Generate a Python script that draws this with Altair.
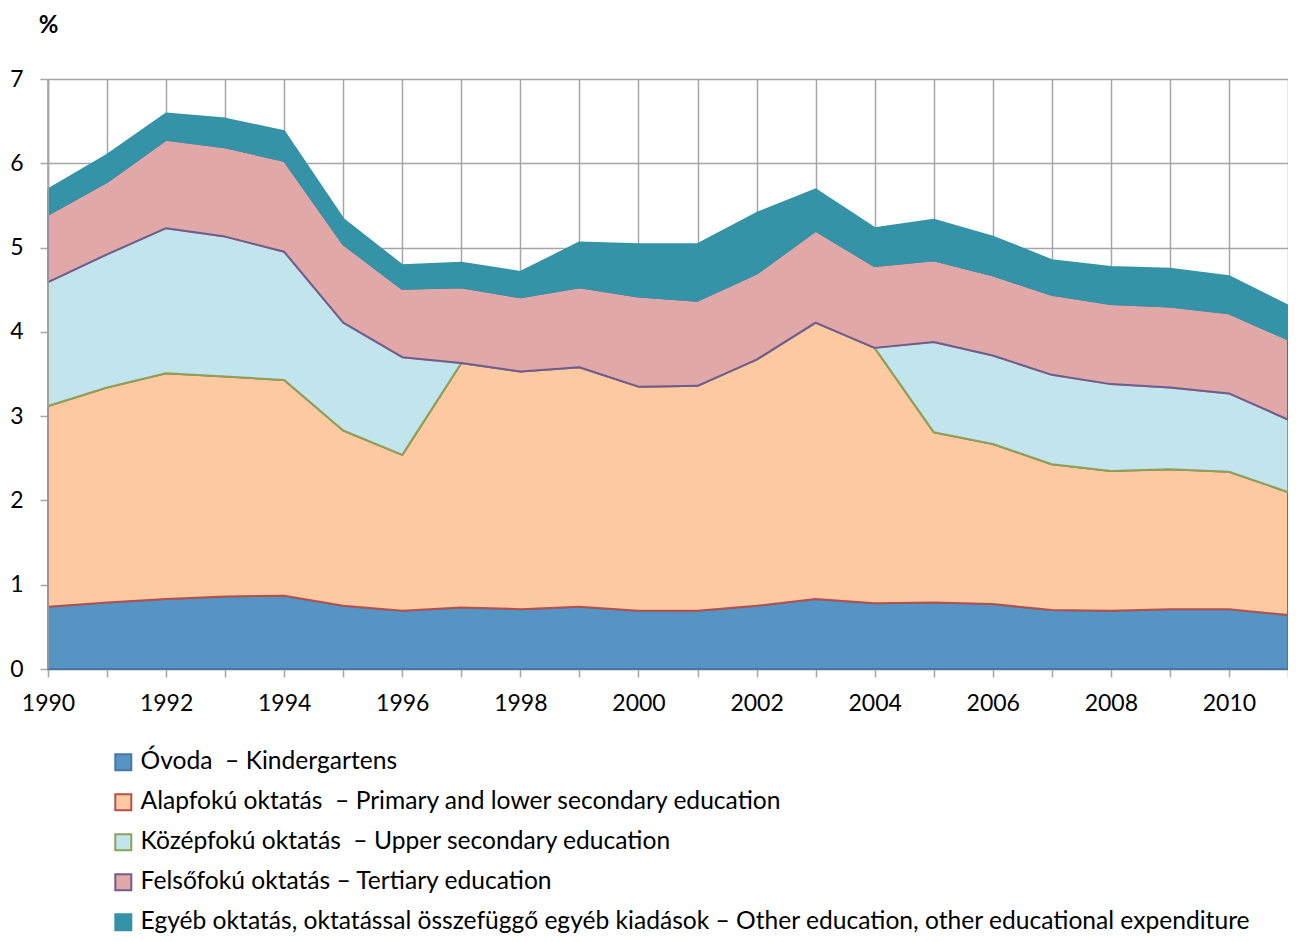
import altair as alt
import numpy as np
import pandas as pd

years = list(range(1990, 2012))

series_names = [
    "Óvoda\u00a0 – Kindergartens",
    "Alapfokú oktatás\u00a0 – Primary and lower secondary education",
    "Középfokú oktatás\u00a0 – Upper secondary education",
    "Felsőfokú oktatás – Tertiary education",
    "Egyéb oktatás, oktatással összefüggő egyéb kiadások – Other education, other educational expenditure",
]

kindergarten = [0.74, 0.79, 0.83, 0.86, 0.87, 0.75, 0.69, 0.73, 0.71, 0.74, 0.69,
                0.69, 0.75, 0.83, 0.78, 0.79, 0.77, 0.70, 0.69, 0.71, 0.71, 0.64]
primary = [2.38, 2.55, 2.68, 2.61, 2.56, 2.08, 1.85, 2.90, 2.82, 2.84, 2.66,
           2.67, 2.92, 3.28, 3.03, 2.02, 1.90, 1.73, 1.66, 1.66, 1.63, 1.46]
upper_secondary = [1.47, 1.58, 1.72, 1.66, 1.52, 1.28, 1.16, 0, 0, 0, 0,
                   0, 0, 0, 0, 1.07, 1.05, 1.06, 1.03, 0.97, 0.93, 0.86]
tertiary = [0.80, 0.86, 1.05, 1.06, 1.08, 0.93, 0.81, 0.90, 0.88, 0.95, 1.07,
            1.01, 1.02, 1.09, 0.97, 0.97, 0.95, 0.95, 0.95, 0.96, 0.95, 0.95]
other = [0.30, 0.32, 0.31, 0.34, 0.35, 0.30, 0.28, 0.29, 0.30, 0.53, 0.62,
         0.67, 0.72, 0.49, 0.45, 0.48, 0.46, 0.41, 0.44, 0.45, 0.44, 0.40]

fills = ["#5694c3", "#fdc9a1", "#c2e4ec", "#e0a8a6", "#3593a7"]
strokes = ["#4677a8", "#b5504b", "#8aa356", "#6f5c93", "#3593a7"]

all_series = [kindergarten, primary, upper_secondary, tertiary, other]
cum = np.cumsum(np.array(all_series), axis=0)
rows = []
for i, name in enumerate(series_names):
    for j, y in enumerate(years):
        lo = 0.0 if i == 0 else float(cum[i - 1, j])
        rows.append({"year": y, "series": name, "lo": lo, "hi": float(cum[i, j])})
df = pd.DataFrame(rows)

FONT = "Lato"
GRID = "#a6a6a6"

x_enc = alt.X(
    "year:Q",
    scale=alt.Scale(domain=[1990, 2011], nice=False, zero=False),
    axis=alt.Axis(
        values=years,
        labelExpr="datum.value % 2 == 0 ? datum.value : ''",
        format="d",
        title=None,
        grid=True,
        gridColor=GRID,
        gridWidth=1.5,
        domainColor=GRID,
        domainWidth=1.5,
        tickColor=GRID,
        tickWidth=1.5,
        tickSize=8,
        labelPadding=15,
        labelFontSize=23,
        labelFont=FONT,
        labelColor="#000000",
        labelFlush=False,
    ),
)
y_enc = alt.Y(
    "lo:Q",
    scale=alt.Scale(domain=[0, 7], nice=False),
    axis=alt.Axis(
        values=[0, 1, 2, 3, 4, 5, 6, 7],
        format="d",
        title="%",
        titleAngle=0,
        titleX=0,
        titleY=-47,
        titleAlign="center",
        titleBaseline="alphabetic",
        titleFontSize=24,
        titleFontWeight="bold",
        titleFont=FONT,
        titleColor="#000000",
        grid=True,
        gridColor=GRID,
        gridWidth=1.5,
        domainColor=GRID,
        domainWidth=1.5,
        tickColor=GRID,
        tickWidth=1.5,
        tickSize=8,
        labelPadding=17,
        labelFontSize=23,
        labelFont=FONT,
        labelColor="#000000",
    ),
)

legend_kw = dict(
    title=None,
    orient="none",
    legendX=63,
    legendY=671,
    direction="vertical",
    symbolType="square",
    symbolSize=256,
    symbolStrokeWidth=2,
    symbolOpacity=1,
    labelFontSize=24.6,
    labelFont=FONT,
    labelColor="#000000",
    labelLimit=1300,
    labelOffset=5,
    rowPadding=14,
)

fill_enc = alt.Fill(
    "series:N",
    scale=alt.Scale(domain=series_names, range=fills),
    legend=alt.Legend(**legend_kw),
)
stroke_enc = alt.Stroke(
    "series:N",
    scale=alt.Scale(domain=series_names, range=strokes),
    legend=alt.Legend(**legend_kw),
)

layers = []
for name in series_names:
    layers.append(
        alt.Chart(df)
        .transform_filter(alt.datum.series == name)
        .mark_area(opacity=1, strokeWidth=2, strokeJoin="round")
        .encode(x=x_enc, y=y_enc, y2="hi:Q", fill=fill_enc, stroke=stroke_enc)
    )

edge = (
    alt.Chart(pd.DataFrame({"year": [1990]}))
    .mark_rule(color=GRID, strokeWidth=1.5)
    .encode(x=alt.X("year:Q"))
)
layers.append(edge)

chart = (
    alt.layer(*layers)
    .properties(
        width=1240,
        height=590,
        autosize=alt.AutoSizeParams(type="none"),
        padding={"left": 40, "top": 71, "right": 0, "bottom": 265},
    )
    .configure_view(fill="#ebebeb", stroke=None)
    .configure(background="#ffffff")
)

chart.save("out.html", embed_options={"renderer": "svg", "actions": False})
